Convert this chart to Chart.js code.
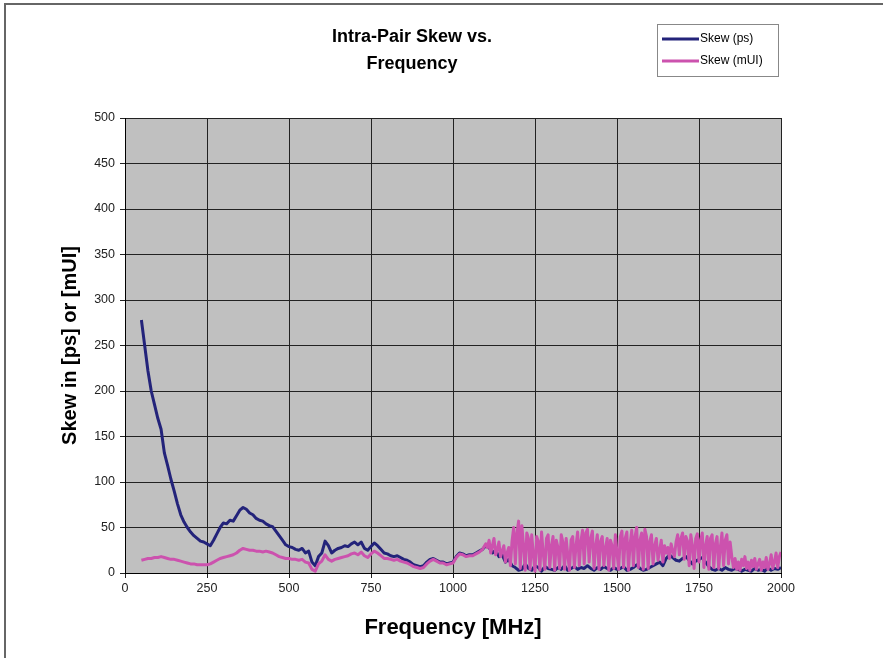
<!DOCTYPE html>
<html>
<head>
<meta charset="utf-8">
<script src="https://cdn.jsdelivr.net/npm/chart.js@4.4.1/dist/chart.umd.min.js"></script>
<style>
  body { margin: 0; background: #fff; overflow: hidden; }
  .frame { position: absolute; left: 4px; top: 3px; width: 877px; height: 655px; border-top: 2px solid #666; border-left: 2px solid #666; }
  .wrap { position: absolute; left: 25px; top: 0; width: 775px; height: 658px; }
</style>
</head>
<body>
<div class="frame"></div>
<div class="wrap"><canvas id="skewChart" width="775" height="658"></canvas></div>
<script>
// Skew (ps), sampled every 10 MHz from 50 to 2000 MHz
const skewPs = [
  278, 250, 222, 200, 185, 170, 158, 132, 118, 103,
  90, 76, 64, 56, 50, 45, 41, 38, 35, 34,
  32, 30, 36, 43, 50, 55, 54, 58, 57, 63,
  69, 72, 70, 66, 64, 60, 58, 57, 54, 52,
  51, 46, 41, 36, 31, 29, 28, 26, 25, 27,
  22, 24, 12, 8, 18, 22, 35, 30, 22, 25,
  27, 28, 30, 29, 32, 34, 31, 34, 27, 25,
  29, 33, 30, 26, 22, 21, 19, 18, 19, 17,
  15, 14, 12, 9, 8, 7, 8, 12, 15, 16,
  14, 12, 12, 10, 11, 12, 18, 22, 21, 19,
  20, 20, 22, 24, 26, 30,
  28, 22, 25, 18, 20, 12, 15, 8, 6, 3,
  4, 10, 5, 3, 8, 6, 2, 7, 5, 4,
  3, 6, 4, 8, 3, 5, 7, 4, 6, 5,
  8, 5, 3, 6, 4, 7, 5, 3, 6, 4,
  5, 7, 3, 4, 6, 9, 5, 3, 4, 6,
  8, 10, 12, 8, 16, 20, 17, 14, 13, 16,
  18, 14, 10, 13, 15, 17, 12, 7, 4, 3,
  5, 3, 6, 4, 3, 5, 4, 2, 4, 3,
  2, 5, 3, 4, 2, 6, 3, 5, 4, 6
];

// Skew (mUI), every 10 MHz from 50 to 1100 MHz
const skewMuiLow = [
  14, 15, 16, 16, 17, 17, 18, 17, 16, 15,
  15, 14, 13, 12, 11, 10, 10, 9, 9, 9,
  9, 10, 12, 14, 16, 17, 18, 19, 20, 22,
  25, 27, 26, 25, 25, 24, 24, 23, 24, 23,
  22, 20, 18, 17, 16, 16, 15, 15, 14, 15,
  12, 11, 4, 2, 10, 13, 20, 15, 13, 15,
  16, 17, 18, 19, 21, 22, 20, 23, 19, 17,
  21, 24, 22, 19, 16, 16, 15, 14, 15, 13,
  12, 11, 9, 7, 6, 5, 6, 10, 13, 15,
  13, 11, 11, 9, 10, 11, 17, 21, 20, 18,
  19, 19, 21, 23, 26, 32
];

// Skew (mUI), every 5 MHz from 1105 to 2000 MHz
const skewMuiHigh = [
  28, 36, 22, 30, 38, 20, 26, 34, 18, 24,
  30, 12, 22, 28, 8, 35, 50, 10, 44, 57,
  5, 52, 30, 3, 44, 38, 4, 42, 20, 2,
  40, 35, 3, 45, 22, 4, 38, 42, 6, 30,
  40, 3, 36, 28, 5, 42, 34, 4, 38, 20,
  3, 36, 40, 6, 30, 45, 8, 35, 47, 10,
  44, 48, 12, 38, 46, 5, 30, 42, 4, 35,
  40, 8, 28, 38, 3, 36, 30, 5, 42, 22,
  4, 40, 46, 6, 38, 45, 3, 32, 47, 8,
  40, 50, 6, 36, 44, 4, 48, 40, 5, 35,
  42, 10, 30, 38, 14, 25, 36, 12, 30, 22,
  28, 16, 32, 24, 18, 34, 42, 20, 38, 44,
  15, 40, 35, 8, 42, 30, 5, 38, 43, 12,
  36, 44, 6, 30, 40, 4, 38, 42, 6, 32,
  40, 5, 28, 44, 8, 36, 42, 10, 34, 18,
  6, 16, 4, 12, 3, 15, 8, 18, 5, 12,
  3, 14, 7, 16, 4, 10, 15, 3, 12, 6,
  17, 4, 10, 20, 5, 12, 22, 6, 18, 23
];

const seriesLabels = ["Skew (ps)", "Skew (mUI)"];
const seriesColors = ["#23237a", "#cc52ae"];
const chartTitle = ["Intra-Pair Skew vs.", "Frequency"];

const fontFamily = "'Liberation Sans', Arial, sans-serif";

const psPoints = skewPs.map((v, i) => ({ x: 50 + i * 10, y: v }));
const muiPoints = skewMuiLow.map((v, i) => ({ x: 50 + i * 10, y: v }))
  .concat(skewMuiHigh.map((v, i) => ({ x: 1105 + i * 5, y: v })));

// grey plot area like the old spreadsheet chart
const plotBg = {
  id: "plotBg",
  beforeDraw: (chart) => {
    const { ctx, chartArea: a } = chart;
    ctx.save();
    ctx.fillStyle = "#c0c0c0";
    ctx.fillRect(a.left, a.top, a.right - a.left, a.bottom - a.top);
    ctx.restore();
  }
};

// boxed legend in the top right corner
const boxLegend = {
  id: "boxLegend",
  afterDraw: (chart) => {
    const ctx = chart.ctx;
    const x = 632, y = 24, w = 121, h = 52;
    ctx.save();
    ctx.fillStyle = "#fff";
    ctx.fillRect(x, y, w, h);
    ctx.strokeStyle = "#888";
    ctx.lineWidth = 1;
    ctx.strokeRect(x + 0.5, y + 0.5, w, h);
    ctx.font = "12px " + fontFamily;
    ctx.textBaseline = "middle";
    chart.data.datasets.forEach((ds, i) => {
      const ly = y + 15 + i * 22;
      ctx.strokeStyle = ds.borderColor;
      ctx.lineWidth = 3;
      ctx.beginPath();
      ctx.moveTo(x + 5, ly);
      ctx.lineTo(x + 42, ly);
      ctx.stroke();
      ctx.fillStyle = "#000";
      ctx.fillText(ds.label, x + 43, ly);
    });
    ctx.restore();
  }
};

const ctx = document.getElementById("skewChart").getContext("2d");
const skewChart = new Chart(ctx, {
  type: "line",
  data: {
    datasets: [
      {
        label: seriesLabels[0],
        data: psPoints,
        borderColor: seriesColors[0],
        borderWidth: 3,
        pointRadius: 0,
        order: 2
      },
      {
        label: seriesLabels[1],
        data: muiPoints,
        borderColor: seriesColors[1],
        borderWidth: 3,
        pointRadius: 0,
        order: 1
      }
    ]
  },
  options: {
    responsive: false,
    animation: false,
    devicePixelRatio: 1,
    borderJoinStyle: "round",
    layout: { padding: { left: 18, right: 19, top: 0, bottom: 17 } },
    plugins: {
      legend: { display: false },
      tooltip: { enabled: false },
      title: {
        display: true,
        text: chartTitle,
        color: "#000",
        font: { family: fontFamily, size: 18, weight: "bold", lineHeight: "27px" },
        padding: { top: 24, bottom: 40 }
      }
    },
    scales: {
      x: {
        type: "linear",
        min: 0,
        max: 2000,
        afterFit: (s) => { s.height = 68; },
        ticks: { stepSize: 250, color: "#222", padding: 3, font: { family: fontFamily, size: 12.5 }, callback: (v) => String(v) },
        grid: { color: "#222", tickLength: 5 },
        border: { color: "#000", width: 1 },
        title: {
          display: true,
          text: "Frequency [MHz]",
          color: "#000",
          padding: 0,
          font: { family: fontFamily, size: 22, weight: "bold" }
        }
      },
      y: {
        min: 0,
        max: 500,
        afterFit: (s) => { s.width = 82; },
        ticks: { stepSize: 50, color: "#222", padding: 5, font: { family: fontFamily, size: 12.5 }, callback: (v) => String(v) },
        grid: { color: "#222", tickLength: 5 },
        border: { color: "#000", width: 1 },
        title: {
          display: true,
          text: "Skew in [ps] or [mUI]",
          color: "#000",
          padding: { top: 15, bottom: 0 },
          font: { family: fontFamily, size: 20, weight: "bold" }
        }
      }
    }
  },
  plugins: [plotBg, boxLegend]
});
</script>
</body>
</html>
